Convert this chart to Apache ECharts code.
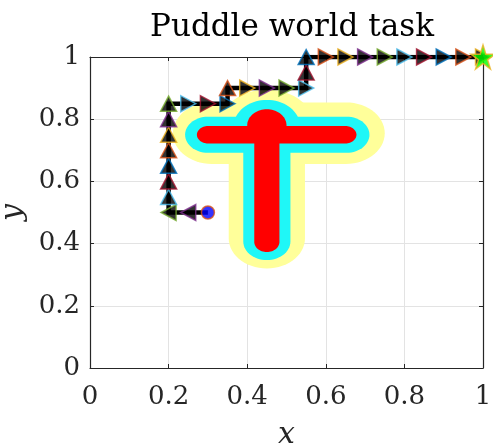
<!DOCTYPE html>
<html><head><meta charset="utf-8">
<script src="https://cdn.jsdelivr.net/npm/echarts/dist/echarts.min.js"></script>
<style>html,body{margin:0;padding:0;background:#fff}#c{width:493px;height:446px}</style>
</head><body><div id="c"></div>
<script>
// ---- data ----
const xTicks = [0, 0.2, 0.4, 0.6, 0.8, 1];
const yTicks = [0, 0.2, 0.4, 0.6, 0.8, 1];
const pathX = [0.3,0.25,0.2,0.2,0.2,0.2,0.2,0.2,0.2,0.2,0.25,0.3,0.35,0.35,0.4,0.45,0.5,0.55,0.55,0.55,0.6,0.65,0.7,0.75,0.8,0.85,0.9,0.95,1.0];
const pathY = [0.5,0.5,0.5,0.55,0.6,0.65,0.7,0.75,0.8,0.85,0.85,0.85,0.85,0.9,0.9,0.9,0.9,0.9,0.95,1.0,1,1,1,1,1,1,1,1,1];
const actions = ['start','L','L','U','U','U','U','U','U','U','R','R','R','U','R','R','R','R','U','U','R','R','R','R','R','R','R','R','R'];
const startPoint = [0.3, 0.5];
const goalPoint = [1.0, 1.0];
// puddle bands: capsules [x1,y1,x2,y2,r] and ellipses [cx,cy,rx,ry]
const yellowCaps = [[0.31,0.755,0.651,0.755,0.099],[0.45,0.417,0.45,0.75,0.097]];
const yellowElls = [[0.45,0.78,0.12,0.115]];
const cyanCaps = [[0.30,0.75,0.653,0.75,0.058],[0.45,0.407,0.45,0.75,0.06]];
const cyanElls = [[0.45,0.775,0.085,0.087]];
const redCaps = [[0.30,0.75,0.65,0.75,0.028],[0.45,0.405,0.45,0.75,0.032]];
const redElls = [[0.45,0.78,0.05,0.052]];

// ---- styling ----
const FONT = 'DejaVu Serif';
const AX = '#262626';
const cycle = ['#0072BD','#D95319','#EDB120','#7E2F8E','#77AC30','#4DBEEE','#A2142F'];
const rotOf = {U:0, L:90, R:-90, D:180};
const STAR = 'path://M50 0 L61.23 34.55 L97.55 34.55 L68.16 55.9 L79.39 90.45 L50 69.1 L20.61 90.45 L31.84 55.9 L2.45 34.55 L38.77 34.55 Z';

function bandSeries(caps, ells, color, z) {
  const shapes = caps.map(c => ({t:'cap', p:c})).concat(ells.map(e => ({t:'ell', p:e})));
  return {
    type: 'custom', coordinateSystem: 'cartesian2d', z: z, silent: true, clip: true,
    data: shapes.map(s => s.t === 'cap' ? [(s.p[0]+s.p[2])/2, (s.p[1]+s.p[3])/2] : [s.p[0], s.p[1]]),
    renderItem: function (params, api) {
      const s = shapes[params.dataIndex];
      const pts = [];
      if (s.t === 'cap') {
        const [x1,y1,x2,y2,r] = s.p;
        const a = Math.atan2(y2-y1, x2-x1);
        const N = 30;
        for (let i = 0; i <= N; i++) { const t = a - Math.PI/2 + Math.PI*i/N; pts.push([x2 + r*Math.cos(t), y2 + r*Math.sin(t)]); }
        for (let i = 0; i <= N; i++) { const t = a + Math.PI/2 + Math.PI*i/N; pts.push([x1 + r*Math.cos(t), y1 + r*Math.sin(t)]); }
      } else {
        const [cx,cy,rx,ry] = s.p;
        const N = 72;
        for (let i = 0; i < N; i++) { const t = 2*Math.PI*i/N; pts.push([cx + rx*Math.cos(t), cy + ry*Math.sin(t)]); }
      }
      return { type: 'polygon', shape: { points: pts.map(p => api.coord(p)) }, style: { fill: color } };
    }
  };
}

const arrowData = [];
for (let i = 1; i < pathX.length; i++) {
  arrowData.push({
    value: [pathX[i], pathY[i]],
    symbolRotate: rotOf[actions[i]],
    itemStyle: { color: '#000', borderColor: cycle[(i + 2) % 7], borderWidth: 1.5 }
  });
}

function valAxis(extra) {
  return Object.assign({
    type: 'value', min: 0, max: 1, interval: 0.2,
    axisLine: { show: true, onZero: false, lineStyle: { color: AX, width: 1.2 } },
    axisTick: { show: true, inside: true, length: 4, lineStyle: { color: AX } },
    splitLine: { show: false },
    axisLabel: { show: false }
  }, extra);
}

const chart = echarts.init(document.getElementById('c'), null, { renderer: 'canvas' });
chart.setOption({
  animation: false,
  backgroundColor: '#fff',
  title: {
    text: 'Puddle world task', left: 287, top: 7, textAlign: 'center',
    textStyle: { fontFamily: FONT, fontSize: 31, fontWeight: 'normal', color: '#000' }
  },
  grid: { left: 90, right: 10, top: 57, bottom: 78, containLabel: false, outerBoundsMode: 'none' },
  xAxis: [
    valAxis({
      position: 'bottom',
      splitLine: { show: true, lineStyle: { color: '#e3e3e3', width: 1 } },
      axisLabel: { show: true, margin: 16, fontFamily: FONT, fontSize: 26, color: AX,
        formatter: v => xTicks.indexOf(+v.toFixed(1)) >= 0 ? String(+v.toFixed(1)) : '' },
      name: 'x', nameLocation: 'middle', nameGap: 52,
      nameTextStyle: { fontFamily: FONT, fontStyle: 'italic', fontSize: 30, color: AX }
    }),
    valAxis({ position: 'top' })
  ],
  yAxis: [
    valAxis({
      position: 'left',
      splitLine: { show: true, lineStyle: { color: '#e3e3e3', width: 1 } },
      axisLabel: { show: true, margin: 10, fontFamily: FONT, fontSize: 26, color: AX,
        formatter: v => yTicks.indexOf(+v.toFixed(1)) >= 0 ? String(+v.toFixed(1)) : '' },
      name: 'y', nameLocation: 'middle', nameGap: 58,
      nameTextStyle: { fontFamily: FONT, fontStyle: 'italic', fontSize: 30, color: AX }
    }),
    valAxis({ position: 'right' })
  ],
  series: [
    bandSeries(yellowCaps, yellowElls, '#ffff9a', 1),
    bandSeries(cyanCaps, cyanElls, '#1ff7f7', 2),
    bandSeries(redCaps, redElls, '#ff0000', 3),
    {
      type: 'line', z: 4, silent: true, symbol: 'none',
      data: pathX.map((x, i) => [x, pathY[i]]),
      lineStyle: { color: '#000', width: 4.5, join: 'miter' }
    },
    {
      type: 'scatter', z: 5, silent: true, symbol: 'triangle', symbolSize: [16, 15],
      data: arrowData
    },
    {
      type: 'scatter', z: 6, silent: true, symbol: 'circle', symbolSize: 13,
      data: [startPoint],
      itemStyle: { color: '#0000ff', borderColor: '#D95319', borderWidth: 1.5 }
    },
    {
      type: 'scatter', z: 6, silent: true, symbol: STAR, symbolSize: 24,
      data: [goalPoint],
      itemStyle: { color: '#00ff00', borderColor: '#EDB120', borderWidth: 1.5 }
    }
  ]
});
</script></body></html>
